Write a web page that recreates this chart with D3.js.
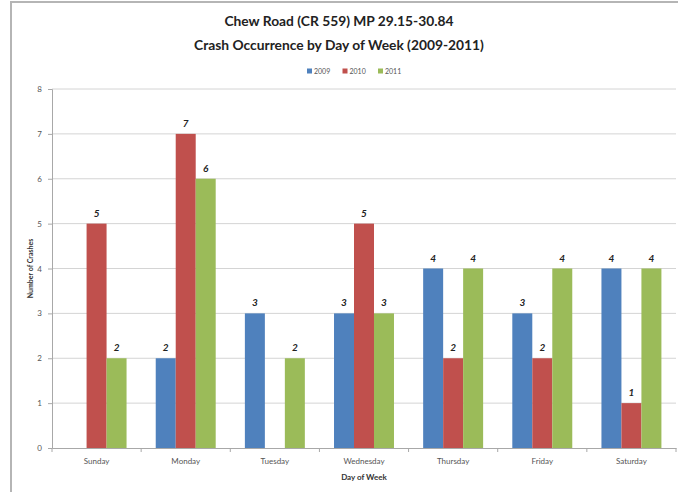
<!DOCTYPE html>
<html>
<head>
<meta charset="utf-8">
<script src="https://cdn.jsdelivr.net/npm/d3@7"></script>
<style>
  body { margin: 0; background: #fff; }
  svg { display: block; font-family: Lato, "Open Sans", sans-serif; }
</style>
</head>
<body>
<div id="chart"></div>
<script>
const days = ["Sunday", "Monday", "Tuesday", "Wednesday", "Thursday", "Friday", "Saturday"];
const years = ["2009", "2010", "2011"];
const crashes2009 = [null, 2, 3, 3, 4, 3, 4];
const crashes2010 = [5, 7, null, 5, 2, 2, 1];
const crashes2011 = [2, 6, 2, 3, 4, 4, 4];
const yTicks = [0, 1, 2, 3, 4, 5, 6, 7, 8];
const colors = ["#4f81bd", "#c0504d", "#9bbb59"];

const series = [crashes2009, crashes2010, crashes2011];

const width = 678, height = 492;
const margin = {top: 89, right: 2, bottom: 44, left: 52};

const svg = d3.select("#chart")
    .append("svg")
    .attr("width", width)
    .attr("height", height);

// outer frame
svg.append("rect")
    .attr("x", 11).attr("y", 2)
    .attr("width", width + 20).attr("height", height + 20)
    .attr("fill", "#fff")
    .attr("stroke", "#b5b5b5")
    .attr("stroke-width", 2);

const x = d3.scaleBand()
    .domain(days)
    .range([margin.left, width - margin.right]);

const x1 = d3.scaleBand()
    .domain(years)
    .range([0, x.bandwidth()])
    .paddingOuter(0.73);

const y = d3.scaleLinear()
    .domain([0, 8])
    .range([height - margin.bottom, margin.top]);

// gridlines
svg.append("g")
    .selectAll("line")
    .data(yTicks.slice(1))
    .join("line")
    .attr("x1", margin.left)
    .attr("x2", width - margin.right)
    .attr("y1", d => y(d))
    .attr("y2", d => y(d))
    .attr("stroke", "#d4d4d4")
    .attr("stroke-width", 1);

// y axis
const yAxis = svg.append("g")
    .attr("transform", `translate(${margin.left},0)`)
    .call(d3.axisLeft(y).tickValues(yTicks).tickSize(4).tickPadding(6));
yAxis.select(".domain").attr("stroke", "#a8a8a8");
yAxis.selectAll(".tick line").attr("stroke", "#a8a8a8");
yAxis.selectAll("text")
    .attr("fill", "#555")
    .style("font-size", "8px")
    .style("font-family", "Lato, sans-serif");

// bars
days.forEach((day, i) => {
    years.forEach((yr, j) => {
        const v = series[j][i];
        if (v == null) return;
        svg.append("rect")
            .attr("x", x(day) + x1(yr))
            .attr("y", y(v))
            .attr("width", x1.bandwidth())
            .attr("height", y(0) - y(v))
            .attr("fill", colors[j]);
        svg.append("text")
            .attr("x", x(day) + x1(yr) + x1.bandwidth() / 2)
            .attr("y", y(v) - 7)
            .attr("text-anchor", "middle")
            .attr("font-size", "10px")
            .attr("font-weight", "bold")
            .attr("font-style", "italic")
            .attr("fill", "#222")
            .text(v);
    });
});

// x axis
const xAxis = svg.append("g")
    .attr("transform", `translate(0,${y(0)})`)
    .call(d3.axisBottom(x).tickSize(0).tickPadding(10));
xAxis.select(".domain").attr("stroke", "#a8a8a8");
xAxis.selectAll("text")
    .attr("fill", "#555")
    .style("font-size", "8px")
    .style("font-family", "Lato, sans-serif");

// category boundary ticks
svg.append("g")
    .selectAll("line")
    .data(days.concat(["end"]))
    .join("line")
    .attr("x1", (d, i) => margin.left + i * x.step())
    .attr("x2", (d, i) => margin.left + i * x.step())
    .attr("y1", y(0))
    .attr("y2", y(0) + 4)
    .attr("stroke", "#a8a8a8");

// titles
svg.append("text")
    .attr("x", 339).attr("y", 26)
    .attr("text-anchor", "middle")
    .attr("font-size", "13.8px")
    .attr("font-weight", "bold")
    .attr("fill", "#222")
    .text("Chew Road (CR 559) MP 29.15-30.84");
svg.append("text")
    .attr("x", 339).attr("y", 50)
    .attr("text-anchor", "middle")
    .attr("font-size", "13.8px")
    .attr("font-weight", "bold")
    .attr("fill", "#222")
    .text("Crash Occurrence by Day of Week (2009-2011)");

// axis titles
svg.append("text")
    .attr("transform", `translate(33,${(y(0) + y(8)) / 2}) rotate(-90)`)
    .attr("text-anchor", "middle")
    .attr("font-size", "7px")
    .attr("font-weight", "bold")
    .attr("fill", "#333")
    .text("Number of Crashes");
svg.append("text")
    .attr("x", (margin.left + width - margin.right) / 2)
    .attr("y", 480)
    .attr("text-anchor", "middle")
    .attr("font-size", "8px")
    .attr("font-weight", "bold")
    .attr("fill", "#333")
    .text("Day of Week");

// legend
const legend = svg.append("g")
    .attr("transform", "translate(307,71)");
years.forEach((yr, j) => {
    const g = legend.append("g").attr("transform", `translate(${j * 35.5},0)`);
    g.append("rect")
        .attr("x", 0).attr("y", -2.5)
        .attr("width", 5).attr("height", 5)
        .attr("fill", colors[j]);
    g.append("text")
        .attr("x", 7).attr("y", 2.5)
        .attr("font-size", "7px")
        .attr("fill", "#555")
        .text(yr);
});
</script>
</body>
</html>
